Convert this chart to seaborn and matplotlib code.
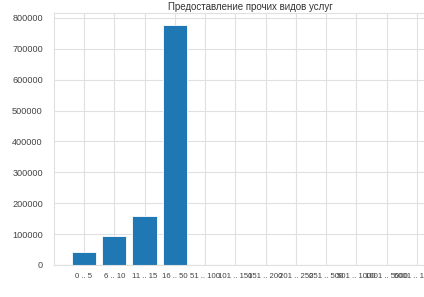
import matplotlib
matplotlib.use("Agg")
import matplotlib.pyplot as plt
import seaborn as sns
import pandas as pd

categories = ["0 .. 5", "6 .. 10", "11 .. 15", "16 .. 50", "51 .. 100", "101 .. 150",
              "151 .. 200", "201 .. 250", "251 .. 500", "501 .. 1000", "1001 .. 5000",
              "5001 .. 10000"]
values = [41000, 95000, 157000, 776000, 600, 300, 200, 150, 200, 100, 80, 20]
title = "Предоставление прочих видов услуг"

sns.set_style("whitegrid")
plt.rcParams['font.family'] = ['Liberation Sans', 'DejaVu Sans']

df = pd.DataFrame({"cat": categories, "val": values})

fig = plt.figure(figsize=(4.24, 2.97), dpi=100)
W, H = 424, 297
left, right, top, bottom = 54, 447, 13.2, 265
ax = fig.add_axes([left / W, 1 - bottom / H, (right - left) / W, (bottom - top) / H])

sns.barplot(data=df, x="cat", y="val", color="#1f77b4", saturation=1, width=0.8,
            edgecolor="white", linewidth=0.6, ax=ax)
ax.set_xlim(-0.99, len(categories) - 1 + 0.99)
ax.set_ylim(0, 815000)
ax.set_yticks(range(0, 800001, 100000))
ax.set_xlabel("")
ax.set_ylabel("")
ax.set_title(title, fontsize=7, color="#333333", pad=2)
ax.tick_params(axis="x", labelsize=5.6, colors="#444444", pad=2.5)
ax.tick_params(axis="y", labelsize=6.6, colors="#444444", pad=4.5)
ax.grid(True, color="#e0e0e0", linewidth=0.8)
for s in ax.spines.values():
    s.set_color("#e0e0e0")
ax.set_axisbelow(True)

fig.savefig("out.png", dpi=100)
